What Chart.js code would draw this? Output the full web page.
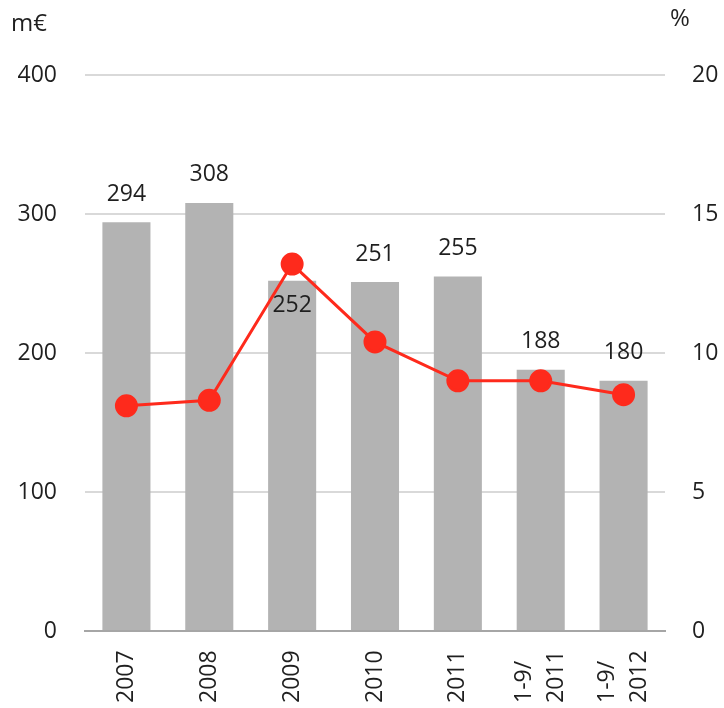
<!DOCTYPE html>
<html>
<head>
<meta charset="utf-8">
<script src="https://cdn.jsdelivr.net/npm/chart.js@4"></script>
<style>
  html, body { margin: 0; padding: 0; background: #fff; }
  #wrap { width: 724px; height: 708px; position: relative; }
</style>
</head>
<body>
<div id="wrap"><canvas id="chart"></canvas></div>
<script>
const categories = ["2007", "2008", "2009", "2010", "2011", ["1-9/", "2011"], ["1-9/", "2012"]];
const revenue = [294, 308, 252, 251, 255, 188, 180];
const margin = [8.1, 8.3, 13.2, 10.4, 9.0, 9.0, 8.5];
const leftTicks = [0, 100, 200, 300, 400];
const rightTicks = [0, 5, 10, 15, 20];

const FONT = "'Open Sans', 'Noto Sans', sans-serif";
const TEXT = "#1f1f1f";

// value labels, rotated category labels and the two unit captions
const labelPlugin = {
  id: "labels",
  afterDatasetsDraw(chart) {
    const ctx = chart.ctx;
    const bars = chart.getDatasetMeta(1).data;
    ctx.save();
    ctx.font = "23px " + FONT;
    ctx.fillStyle = TEXT;
    ctx.textAlign = "center";
    ctx.textBaseline = "middle";
    bars.forEach((bar, i) => {
      // 2009 label sits inside the bar because the line point is above it
      const y = i === 2 ? bar.y + 25 : bar.y - 28;
      ctx.fillText(revenue[i], bar.x, y);
    });

    // category labels read bottom-up, all starting at the same baseline
    const xs = chart.scales.x;
    ctx.font = "23px " + FONT;
    ctx.textAlign = "left";
    categories.forEach((cat, i) => {
      const lines = Array.isArray(cat) ? cat : [cat];
      const cx = xs.getPixelForValue(i);
      lines.forEach((line, j) => {
        const off = (j - (lines.length - 1) / 2) * 32;
        ctx.save();
        ctx.translate(cx + off, 703);
        ctx.rotate(-Math.PI / 2);
        ctx.fillText(line, 0, 0);
        ctx.restore();
      });
    });

    ctx.font = "24px " + FONT;
    ctx.fillText("m€", 11, 24);
    ctx.fillText("%", 670, 19);
    ctx.restore();
  }
};

const ctx = document.getElementById("chart").getContext("2d");
new Chart(ctx, {
  data: {
    labels: categories,
    datasets: [
      {
        type: "line",
        data: margin,
        yAxisID: "y1",
        borderColor: "#fe2a1c",
        backgroundColor: "#fe2a1c",
        borderWidth: 3,
        pointRadius: 10,
        pointHoverRadius: 10,
        order: 0,
      },
      {
        type: "bar",
        data: revenue,
        yAxisID: "y",
        backgroundColor: "#b3b3b3",
        categoryPercentage: 1,
        barPercentage: 0.58,
        order: 1,
      },
    ],
  },
  options: {
    responsive: true,
    maintainAspectRatio: false,
    animation: false,
    layout: { padding: { top: 75, left: 0, right: 0, bottom: 0 } },
    plugins: { legend: { display: false }, tooltip: { enabled: false } },
    scales: {
      x: {
        grid: { display: false, drawTicks: false },
        border: { color: "#a6a6a6", width: 2 },
        ticks: { display: false },
        afterFit(scale) { scale.height = 77; },
      },
      y: {
        position: "left",
        min: 0,
        max: 400,
        afterBuildTicks(scale) { scale.ticks = leftTicks.map(v => ({ value: v })); },
        grid: { color: (c) => c.tick.value === 0 ? "rgba(0,0,0,0)" : "#d9d9d9", lineWidth: 2, drawTicks: false },
        border: { display: false },
        ticks: { color: TEXT, font: { family: FONT, size: 23 }, padding: 28 },
        afterFit(scale) { scale.width = 85; },
      },
      y1: {
        position: "right",
        min: 0,
        max: 20,
        afterBuildTicks(scale) { scale.ticks = rightTicks.map(v => ({ value: v })); },
        grid: { display: false, drawTicks: false },
        border: { display: false },
        ticks: { color: TEXT, font: { family: FONT, size: 23 }, padding: 27 },
        afterFit(scale) { scale.width = 59; },
      },
    },
  },
  plugins: [labelPlugin],
});
</script>
</body>
</html>
